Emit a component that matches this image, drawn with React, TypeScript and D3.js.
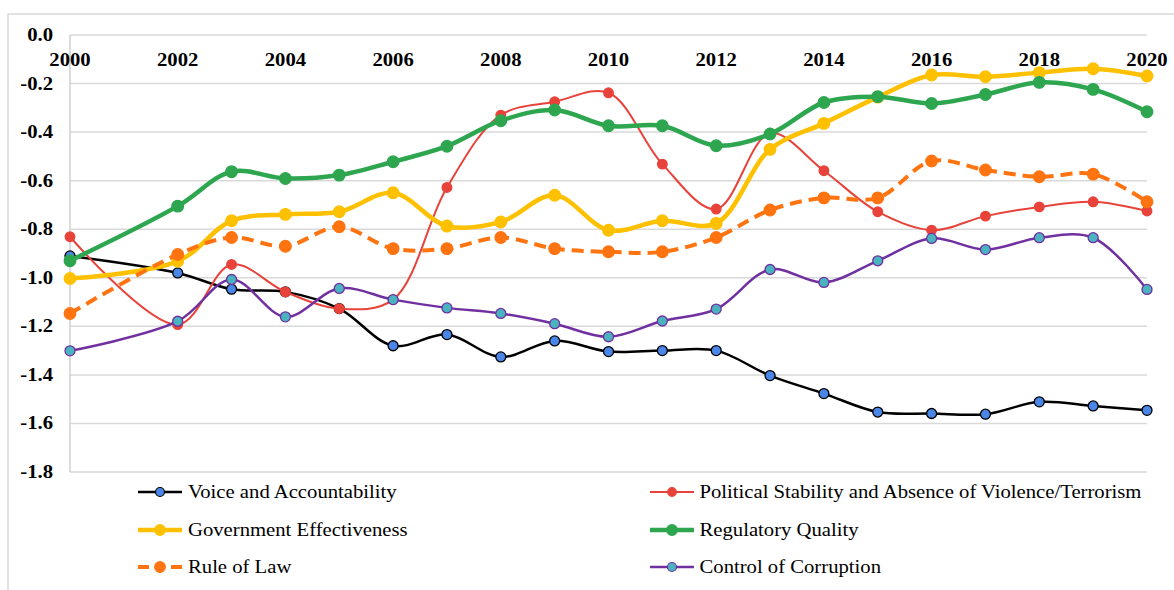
import React from "react";
import * as d3 from "d3";

// Worldwide Governance Indicators, estimates 2000–2020 (2001 not surveyed)
const years = [2000, 2002, 2003, 2004, 2005, 2006, 2007, 2008, 2009, 2010, 2011, 2012, 2013, 2014, 2015, 2016, 2017, 2018, 2019, 2020];

const voiceAccountability = [-0.91, -0.98, -1.047, -1.058, -1.127, -1.28, -1.234, -1.326, -1.26, -1.304, -1.3, -1.3, -1.403, -1.477, -1.553, -1.559, -1.562, -1.511, -1.528, -1.546];
const politicalStability = [-0.831, -1.193, -0.945, -1.058, -1.127, -1.09, -0.628, -0.33, -0.275, -0.238, -0.532, -0.717, -0.405, -0.559, -0.728, -0.804, -0.746, -0.708, -0.687, -0.725];
const governmentEffectiveness = [-1.003, -0.932, -0.765, -0.739, -0.728, -0.65, -0.787, -0.77, -0.66, -0.804, -0.765, -0.776, -0.471, -0.364, -0.256, -0.165, -0.172, -0.155, -0.139, -0.169];
const regulatoryQuality = [-0.93, -0.705, -0.563, -0.591, -0.577, -0.522, -0.458, -0.353, -0.309, -0.374, -0.374, -0.456, -0.408, -0.278, -0.254, -0.282, -0.245, -0.195, -0.224, -0.316];
const ruleOfLaw = [-1.147, -0.904, -0.834, -0.87, -0.79, -0.88, -0.88, -0.834, -0.88, -0.893, -0.893, -0.834, -0.721, -0.671, -0.671, -0.519, -0.556, -0.584, -0.573, -0.687];
const controlOfCorruption = [-1.301, -1.179, -1.007, -1.161, -1.044, -1.09, -1.124, -1.147, -1.189, -1.243, -1.178, -1.129, -0.966, -1.019, -0.93, -0.838, -0.884, -0.835, -0.835, -1.048];

const xTicks = [2000, 2002, 2004, 2006, 2008, 2010, 2012, 2014, 2016, 2018, 2020];
const yTicks = [0, -0.2, -0.4, -0.6, -0.8, -1.0, -1.2, -1.4, -1.6, -1.8];

type Series = {
  name: string;
  values: number[];
  stroke: string;
  width: number;
  dash?: string;
  fill: string;
  markerStroke: string;
  r: number;
};

const series: Series[] = [
  { name: "Voice and Accountability", values: voiceAccountability, stroke: "#000000", width: 2.5, fill: "#4A86E8", markerStroke: "#000000", r: 5 },
  { name: "Political Stability and Absence of Violence/Terrorism", values: politicalStability, stroke: "#E8433A", width: 2, fill: "#E8433A", markerStroke: "#E8433A", r: 4.8 },
  { name: "Government Effectiveness", values: governmentEffectiveness, stroke: "#FFC000", width: 4.5, fill: "#FFC000", markerStroke: "#FFC000", r: 5.8 },
  { name: "Regulatory Quality", values: regulatoryQuality, stroke: "#2EA650", width: 4.5, fill: "#2EA650", markerStroke: "#2EA650", r: 5.8 },
  { name: "Rule of Law", values: ruleOfLaw, stroke: "#FF7410", width: 4, dash: "12,7", fill: "#FF7410", markerStroke: "#FF7410", r: 5.8 },
  { name: "Control of Corruption", values: controlOfCorruption, stroke: "#7030A0", width: 2.5, fill: "#4AB3C0", markerStroke: "#7030A0", r: 5 },
];

const W = 1174;
const H = 590;
const font = "'Liberation Serif', 'Times New Roman', serif";
const stretch = "scale(1.15,1)";

export default function App() {
  const x = d3.scaleLinear().domain([2000, 2020]).range([70, 1147]);
  const y = d3.scaleLinear().domain([-1.8, 0]).range([472, 35]);
  const line = d3
    .line<number>()
    .x((_, i) => x(years[i]))
    .y((v) => y(v))
    .curve(d3.curveCatmullRom.alpha(0.5));

  const legendRows = [498, 536, 573];
  const legendCols = [{ x0: 138, x1: 182, tx: 188 }, { x0: 650, x1: 694, tx: 699.5 }];

  return (
    <svg width={W} height={H} style={{ position: "absolute", left: 0, top: 0, background: "#fff" }}>
      {/* chart frame */}
      <path d={`M8,${H} V14 H${W}`} fill="none" stroke="#d9d9d9" strokeWidth={1.5} />

      {/* gridlines */}
      {yTicks.map((t) => (
        <line key={t} x1={70} x2={1147} y1={y(t)} y2={y(t)} stroke="#d9d9d9" strokeWidth={1.5} />
      ))}
      <line x1={70} x2={70} y1={y(0)} y2={y(-1.8)} stroke="#d0d0d0" strokeWidth={1.5} />

      {/* y tick labels */}
      {yTicks.map((t) => (
        <text
          key={t}
          transform={`translate(53,${y(t) + 6}) ${stretch}`}
          textAnchor="end"
          fontFamily={font}
          fontWeight="bold"
          fontSize={18}
          fill="#000"
        >
          {d3.format(".1f")(t).replace("−", "-")}
        </text>
      ))}

      {/* x tick labels */}
      {xTicks.map((t) => (
        <text
          key={t}
          transform={`translate(${x(t)},66) ${stretch}`}
          textAnchor="middle"
          fontFamily={font}
          fontWeight="bold"
          fontSize={18}
          fill="#000"
        >
          {t}
        </text>
      ))}

      {/* series */}
      {series.map((s) => (
        <g key={s.name}>
          <path d={line(s.values) ?? ""} fill="none" stroke={s.stroke} strokeWidth={s.width} strokeDasharray={s.dash} />
          {s.values.map((v, i) => (
            <circle key={i} cx={x(years[i])} cy={y(v)} r={s.r} fill={s.fill} stroke={s.markerStroke} strokeWidth={1.3} />
          ))}
        </g>
      ))}

      {/* legend */}
      {series.map((s, i) => {
        const col = legendCols[i % 2];
        const row = legendRows[Math.floor(i / 2)];
        const cy = row - 6;
        const mid = (col.x0 + col.x1) / 2;
        return (
          <g key={s.name}>
            {s.dash ? (
              <>
                <line x1={col.x0} x2={col.x0 + 11} y1={cy} y2={cy} stroke={s.stroke} strokeWidth={s.width} />
                <line x1={col.x1 - 11} x2={col.x1} y1={cy} y2={cy} stroke={s.stroke} strokeWidth={s.width} />
              </>
            ) : (
              <line x1={col.x0} x2={col.x1} y1={cy} y2={cy} stroke={s.stroke} strokeWidth={s.width} />
            )}
            <circle cx={mid} cy={cy} r={s.r - 0.5} fill={s.fill} stroke={s.markerStroke} strokeWidth={1.2} />
            <text
              transform={`translate(${col.tx},${row}) ${stretch}`}
              fontFamily={font}
              fontSize={18}
              fill="#000"
            >
              {s.name}
            </text>
          </g>
        );
      })}
    </svg>
  );
}
